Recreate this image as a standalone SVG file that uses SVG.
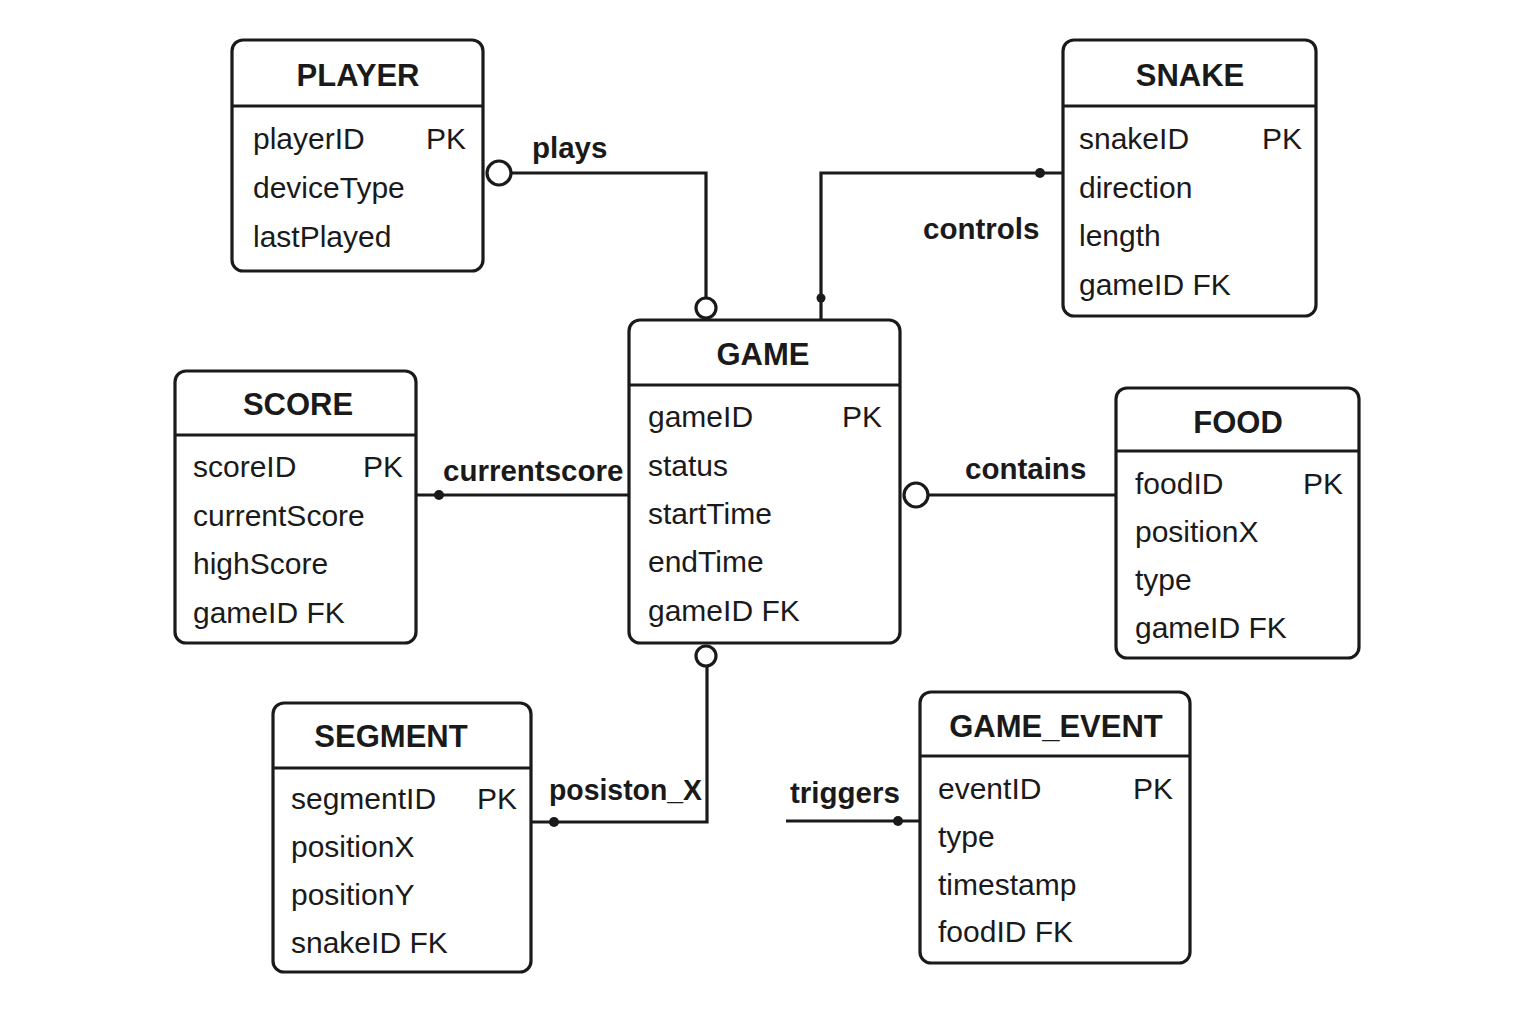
<svg xmlns="http://www.w3.org/2000/svg" width="1536" height="1024" viewBox="0 0 1536 1024">
<style>
.box{fill:#fff;stroke:#1a1a1a;stroke-width:3.2}
.div{stroke:#1a1a1a;stroke-width:3.2}
.title{font-family:"Liberation Sans",Arial,sans-serif;font-weight:bold;font-size:31px;fill:#1a1a1a;text-anchor:middle}
.row{font-family:"Liberation Sans",Arial,sans-serif;font-size:30px;fill:#1a1a1a}
.lbl{font-family:"Liberation Sans",Arial,sans-serif;font-weight:bold;font-size:29.5px;fill:#1a1a1a}
.ln{fill:none;stroke:#1a1a1a;stroke-width:3.2}
.circ{fill:#fff;stroke:#1a1a1a;stroke-width:3.2}
.dot{fill:#1a1a1a}
</style>
<rect width="1536" height="1024" fill="#fff"/>
<g id="connectors">
  <!-- plays -->
  <polyline class="ln" points="511,173 706,173 706,297"/>
  <circle class="circ" cx="499" cy="173" r="12"/>
  <circle class="circ" cx="706" cy="308" r="10"/>
  <text class="lbl" x="532" y="158">plays</text>
  <!-- controls -->
  <polyline class="ln" points="1063,173 821,173 821,320"/>
  <circle class="dot" cx="1040" cy="173" r="5"/>
  <circle class="dot" cx="821" cy="298" r="4.5"/>
  <text class="lbl" x="923" y="239">controls</text>
  <!-- currentscore -->
  <line class="ln" x1="416" y1="495" x2="629" y2="495"/>
  <circle class="dot" cx="439" cy="495" r="5"/>
  <text class="lbl" x="443" y="481">currentscore</text>
  <!-- contains -->
  <line class="ln" x1="928" y1="495" x2="1116" y2="495"/>
  <circle class="circ" cx="916" cy="495" r="12"/>
  <text class="lbl" x="965" y="479">contains</text>
  <!-- posiston_X -->
  <polyline class="ln" points="707,666 707,822 531,822"/>
  <circle class="circ" cx="706" cy="656" r="10"/>
  <circle class="dot" cx="554" cy="822" r="5"/>
  <text class="lbl" x="549" y="800" textLength="153" lengthAdjust="spacingAndGlyphs">posiston_X</text>
  <!-- triggers -->
  <line class="ln" x1="786" y1="821" x2="920" y2="821"/>
  <circle class="dot" cx="898" cy="821" r="5"/>
  <text class="lbl" x="790" y="803">triggers</text>
</g>
<g id="player">
  <rect class="box" x="232" y="40" width="251" height="231" rx="11"/>
  <line class="div" x1="232" y1="106" x2="483" y2="106"/>
  <text class="title" x="358" y="86">PLAYER</text>
  <text class="row" x="253" y="149">playerID</text>
  <text class="row" x="426" y="149">PK</text>
  <text class="row" x="253" y="198">deviceType</text>
  <text class="row" x="253" y="247">lastPlayed</text>
</g>
<g id="snake">
  <rect class="box" x="1063" y="40" width="253" height="276" rx="11"/>
  <line class="div" x1="1063" y1="106" x2="1316" y2="106"/>
  <text class="title" x="1190" y="86">SNAKE</text>
  <text class="row" x="1079" y="149">snakeID</text>
  <text class="row" x="1262" y="149">PK</text>
  <text class="row" x="1079" y="198">direction</text>
  <text class="row" x="1079" y="246">length</text>
  <text class="row" x="1079" y="295">gameID FK</text>
</g>
<g id="game">
  <rect class="box" x="629" y="320" width="271" height="323" rx="11"/>
  <line class="div" x1="629" y1="385" x2="900" y2="385"/>
  <text class="title" x="763" y="365">GAME</text>
  <text class="row" x="648" y="427">gameID</text>
  <text class="row" x="842" y="427">PK</text>
  <text class="row" x="648" y="476">status</text>
  <text class="row" x="648" y="524">startTime</text>
  <text class="row" x="648" y="572">endTime</text>
  <text class="row" x="648" y="621">gameID FK</text>
</g>
<g id="score">
  <rect class="box" x="175" y="371" width="241" height="272" rx="11"/>
  <line class="div" x1="175" y1="435" x2="416" y2="435"/>
  <text class="title" x="298" y="415">SCORE</text>
  <text class="row" x="193" y="477">scoreID</text>
  <text class="row" x="363" y="477">PK</text>
  <text class="row" x="193" y="526">currentScore</text>
  <text class="row" x="193" y="574">highScore</text>
  <text class="row" x="193" y="623">gameID FK</text>
</g>
<g id="food">
  <rect class="box" x="1116" y="388" width="243" height="270" rx="11"/>
  <line class="div" x1="1116" y1="451" x2="1359" y2="451"/>
  <text class="title" x="1238" y="433">FOOD</text>
  <text class="row" x="1135" y="494">foodID</text>
  <text class="row" x="1303" y="494">PK</text>
  <text class="row" x="1135" y="542">positionX</text>
  <text class="row" x="1135" y="590">type</text>
  <text class="row" x="1135" y="638">gameID FK</text>
</g>
<g id="segment">
  <rect class="box" x="273" y="703" width="258" height="269" rx="11"/>
  <line class="div" x1="273" y1="768" x2="531" y2="768"/>
  <text class="title" x="391" y="747">SEGMENT</text>
  <text class="row" x="291" y="809">segmentID</text>
  <text class="row" x="477" y="809">PK</text>
  <text class="row" x="291" y="857">positionX</text>
  <text class="row" x="291" y="905">positionY</text>
  <text class="row" x="291" y="953">snakeID FK</text>
</g>
<g id="game_event">
  <rect class="box" x="920" y="692" width="270" height="271" rx="11"/>
  <line class="div" x1="920" y1="756" x2="1190" y2="756"/>
  <text class="title" x="1056" y="737">GAME_EVENT</text>
  <text class="row" x="938" y="799">eventID</text>
  <text class="row" x="1133" y="799">PK</text>
  <text class="row" x="938" y="847">type</text>
  <text class="row" x="938" y="895">timestamp</text>
  <text class="row" x="938" y="942">foodID FK</text>
</g>
</svg>
